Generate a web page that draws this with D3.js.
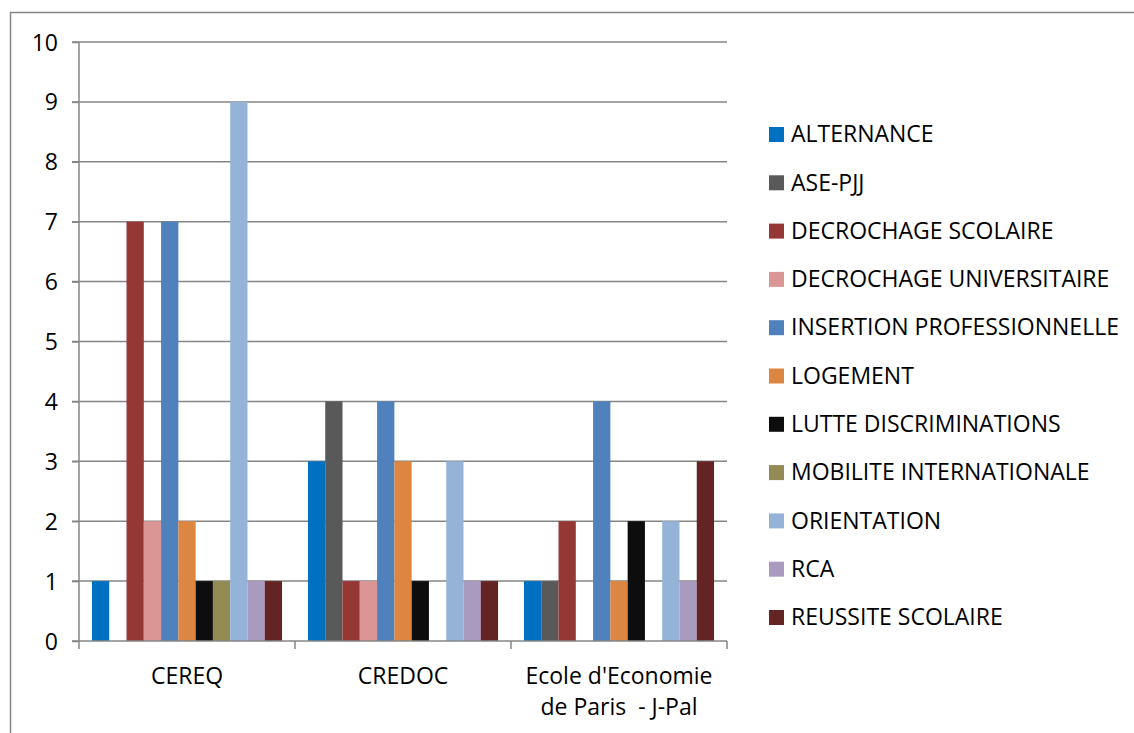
<!DOCTYPE html>
<html>
<head>
<meta charset="utf-8">
<script src="https://cdn.jsdelivr.net/npm/d3@7"></script>
<style>
  body { margin: 0; background: #fff; }
  text { font-family: "Open Sans", "Liberation Sans", sans-serif; fill: #000; }
</style>
</head>
<body>
<div id="chart"></div>
<script>
var categories = ["CEREQ", "CREDOC", "Ecole d'Economie\nde Paris  - J-Pal"];
var seriesNames = ["ALTERNANCE", "ASE-PJJ", "DECROCHAGE SCOLAIRE", "DECROCHAGE UNIVERSITAIRE",
  "INSERTION PROFESSIONNELLE", "LOGEMENT", "LUTTE DISCRIMINATIONS", "MOBILITE INTERNATIONALE",
  "ORIENTATION", "RCA", "REUSSITE SCOLAIRE"];
var colors = ["#0070C0", "#595959", "#953735", "#D99694", "#4F81BD", "#DD8642",
  "#0D0D0D", "#948A54", "#95B3D7", "#A99BC0", "#632423"];
// values per series, in category order
var alternance = [1, 3, 1];
var asePjj = [0, 4, 1];
var decrochageScolaire = [7, 1, 2];
var decrochageUniv = [2, 1, 0];
var insertion = [7, 4, 4];
var logement = [2, 3, 1];
var lutte = [1, 1, 2];
var mobilite = [1, 0, 0];
var orientation = [9, 3, 2];
var rca = [1, 1, 1];
var reussite = [1, 1, 3];
var yTicks = [0, 1, 2, 3, 4, 5, 6, 7, 8, 9, 10];

var series = [alternance, asePjj, decrochageScolaire, decrochageUniv, insertion, logement,
  lutte, mobilite, orientation, rca, reussite];

var W = 1134, H = 733;
var plotLeft = 79, plotRight = 727, plotTop = 42, plotBottom = 641;
var fontSize = "23px";

var svg = d3.select("#chart").append("svg")
  .attr("width", W).attr("height", H);

// outer chart border
svg.append("rect")
  .attr("x", 10.5).attr("y", 12.5)
  .attr("width", 1140).attr("height", 740)
  .attr("fill", "none").attr("stroke", "#868686").attr("stroke-width", 1.5);

var x0 = d3.scaleBand().domain(d3.range(categories.length)).range([plotLeft, plotRight]).paddingInner(0).paddingOuter(0);
var x1 = d3.scaleBand().domain(d3.range(seriesNames.length)).range([0, x0.bandwidth()]).paddingOuter(0.75).paddingInner(0);
var y = d3.scaleLinear().domain([0, 10]).range([plotBottom, plotTop]);

// gridlines
svg.append("g").selectAll("line").data(yTicks.filter(function (d) { return d > 0; }))
  .enter().append("line")
  .attr("x1", plotLeft - 7).attr("x2", plotRight)
  .attr("y1", function (d) { return y(d); }).attr("y2", function (d) { return y(d); })
  .attr("stroke", "#868686").attr("stroke-width", 1.5);

// bars
var g = svg.append("g").selectAll("g").data(categories).enter().append("g")
  .attr("transform", function (d, i) { return "translate(" + x0(i) + ",0)"; });
g.selectAll("rect")
  .data(function (d, i) { return series.map(function (s, k) { return {k: k, v: s[i]}; }); })
  .enter().append("rect")
  .attr("x", function (d) { return x1(d.k); })
  .attr("width", x1.bandwidth())
  .attr("y", function (d) { return y(d.v); })
  .attr("height", function (d) { return y(0) - y(d.v); })
  .attr("fill", function (d) { return colors[d.k]; });

// y axis
var yAxis = svg.append("g")
  .attr("transform", "translate(" + plotLeft + ",0)")
  .call(d3.axisLeft(y).tickValues(yTicks).tickSize(7).tickPadding(14));
yAxis.selectAll("line").attr("stroke", "#868686").attr("stroke-width", 1.5);
yAxis.select(".domain").attr("stroke", "#868686").attr("stroke-width", 1.5).attr("d", "M0," + plotTop + "V" + plotBottom);
yAxis.selectAll("text").style("font-size", fontSize).attr("dy", "0.35em").attr("fill", "#000");

// x axis
var xAxis = svg.append("g")
  .attr("transform", "translate(0," + plotBottom + ")");
xAxis.append("line").attr("x1", plotLeft - 7).attr("x2", plotRight).attr("y1", 0).attr("y2", 0)
  .attr("stroke", "#868686").attr("stroke-width", 1.5);
xAxis.selectAll("line.tick").data(d3.range(categories.length + 1)).enter().append("line")
  .attr("class", "tick")
  .attr("x1", function (d) { return plotLeft + d * x0.bandwidth(); })
  .attr("x2", function (d) { return plotLeft + d * x0.bandwidth(); })
  .attr("y1", 0).attr("y2", 8)
  .attr("stroke", "#868686").attr("stroke-width", 1.5);
xAxis.selectAll("text.cat").data(categories).enter().append("text")
  .attr("class", "cat")
  .attr("text-anchor", "middle")
  .style("font-size", fontSize)
  .attr("transform", function (d, i) { return "translate(" + (x0(i) + x0.bandwidth() / 2) + ",43)"; })
  .each(function (d) {
    var t = d3.select(this);
    d.split("\n").forEach(function (line, j) {
      t.append("tspan").attr("x", 0).attr("dy", j === 0 ? 0 : 31).style("white-space", "pre").text(line);
    });
  });

// legend
var legend = svg.append("g").selectAll("g").data(seriesNames).enter().append("g")
  .attr("transform", function (d, i) { return "translate(769," + (134 + i * 48.3) + ")"; });
legend.append("rect").attr("x", 0).attr("y", -7).attr("width", 15).attr("height", 15)
  .attr("fill", function (d, i) { return colors[i]; });
legend.append("text").attr("x", 22).attr("dy", "0.36em")
  .style("font-size", fontSize).text(function (d) { return d; });
</script>
</body>
</html>
